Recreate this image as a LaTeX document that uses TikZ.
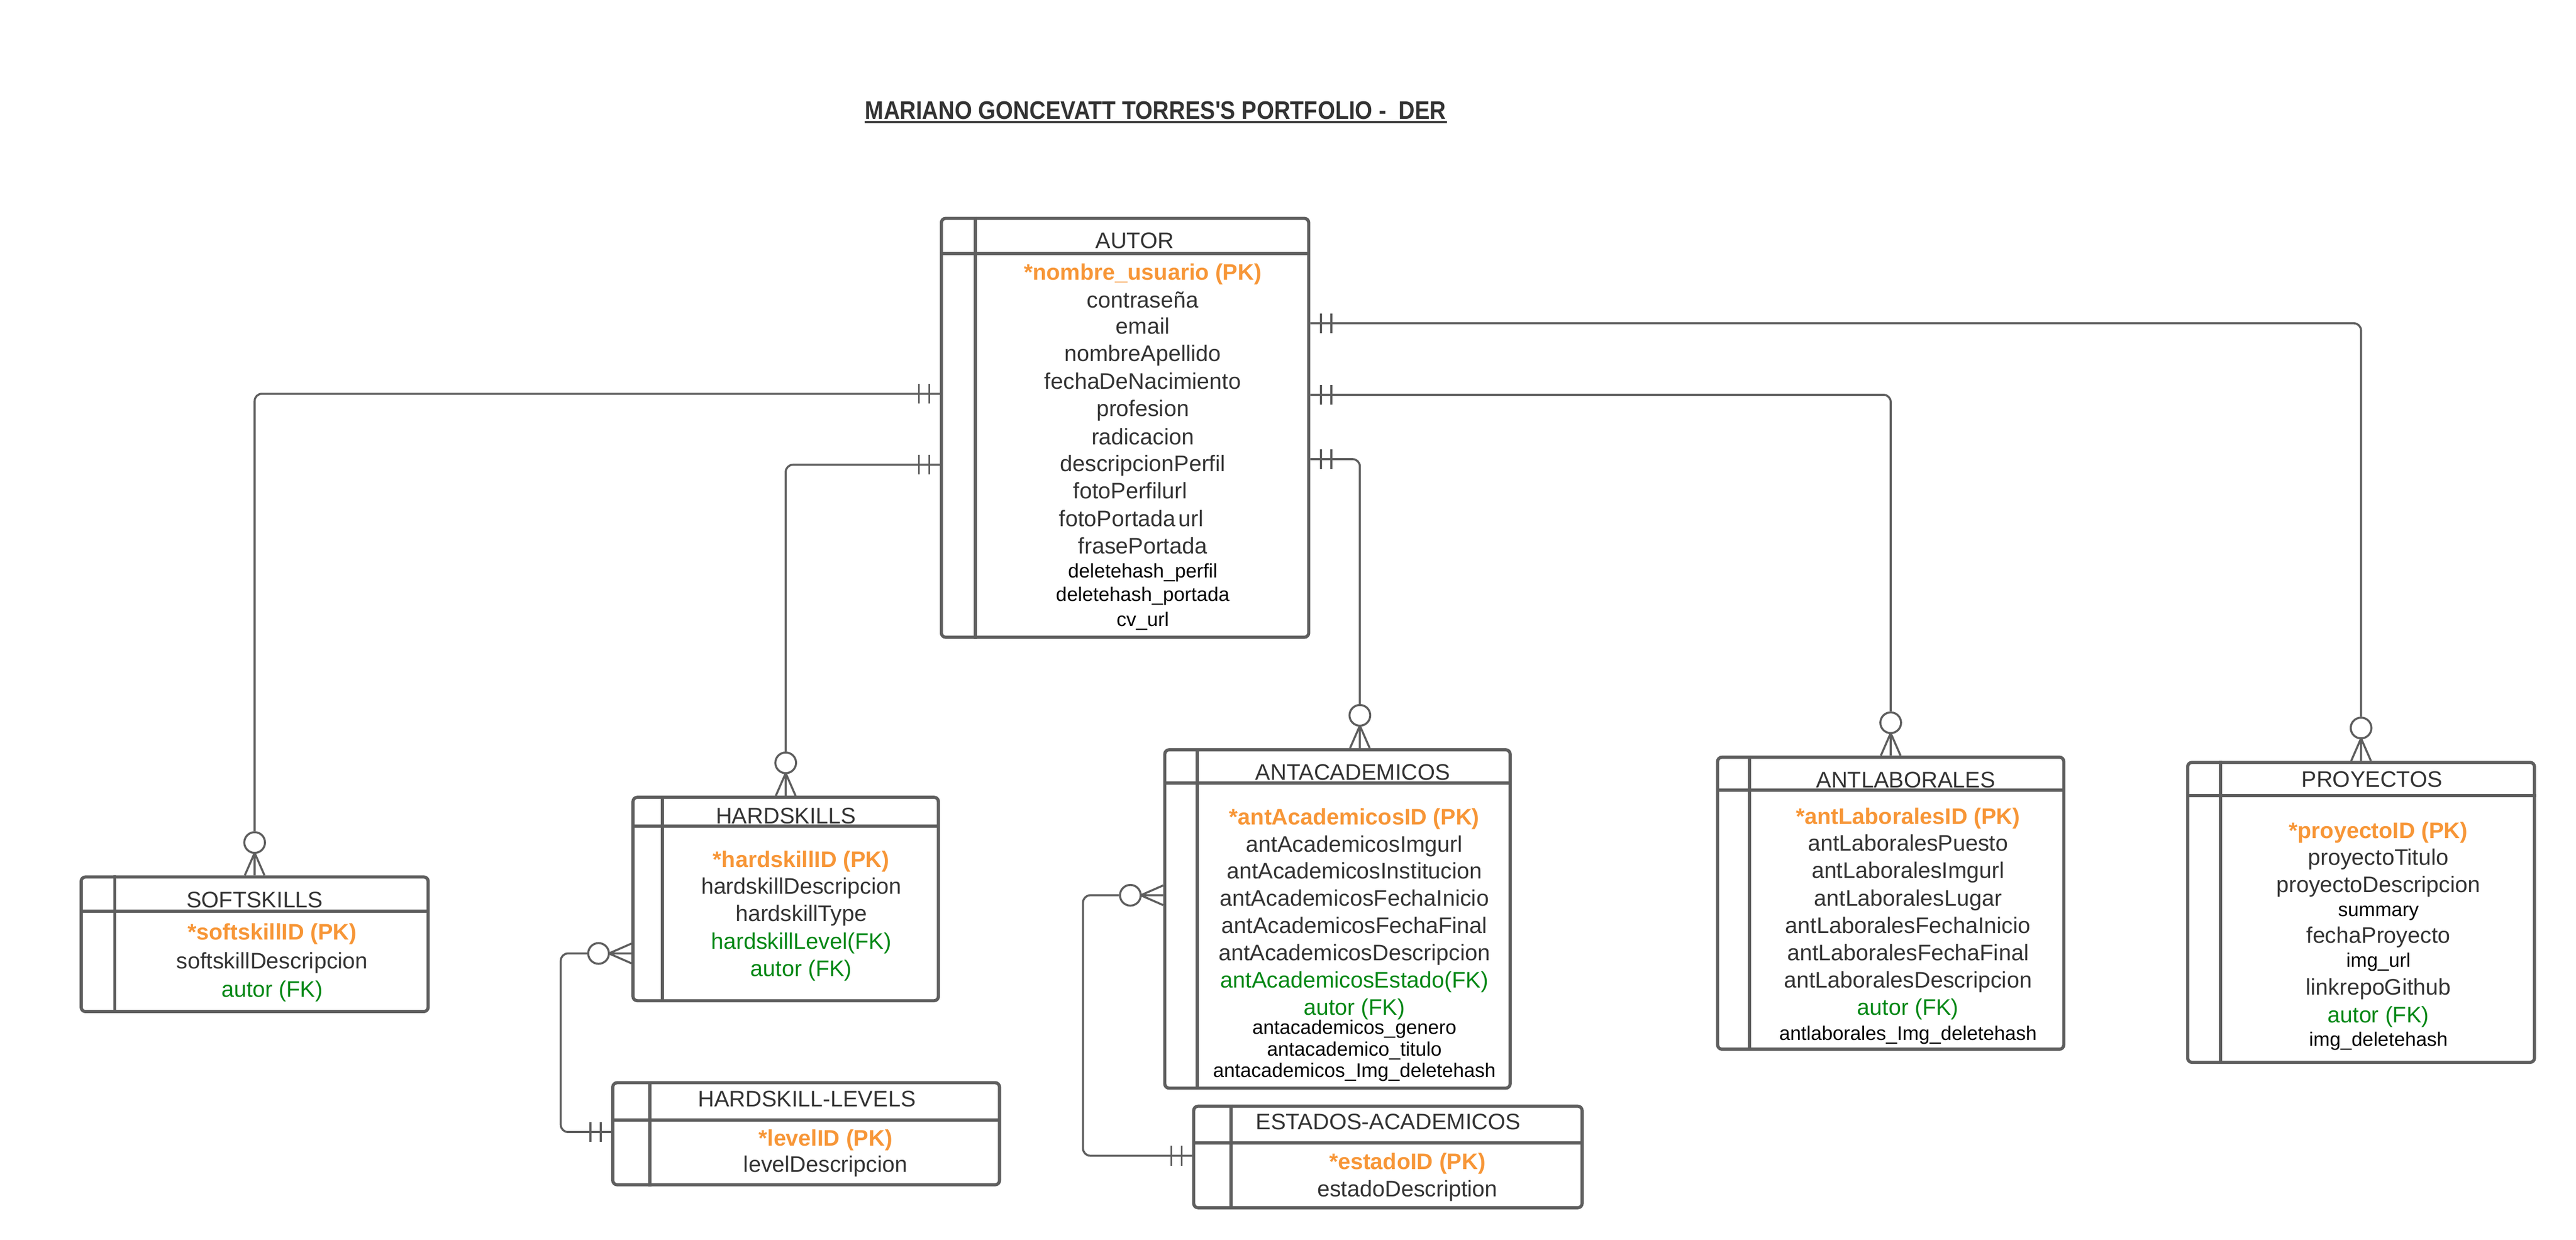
\documentclass[tikz,border=0pt]{standalone}
\usepackage{fontspec}
\setmainfont{Liberation Sans}
\usepackage{tikz}
\usetikzlibrary{fit}
\usetikzlibrary{positioning, calc}

\definecolor{linea}{RGB}{94,94,94}
\definecolor{texto}{RGB}{51,51,51}
\definecolor{pkcolor}{RGB}{247,150,55}
\definecolor{fkcolor}{RGB}{0,135,20}

\begin{document}
\begin{tikzpicture}[x=0.02cm, y=-0.02cm,
    tabla/.style={draw=linea, line width=1.1pt, rounded corners=1.5pt, inner sep=0pt},
    division/.style={draw=linea, line width=1.1pt},
    cabecera/.style={inner sep=0pt, text height=5.6pt, text depth=0pt, text=texto, font=\fontsize{7.8}{9}\selectfont},
    campo/.style={cabecera},
    pk/.style={cabecera, text=pkcolor, font=\fontsize{7.8}{9}\selectfont\bfseries},
    fk/.style={cabecera, text=fkcolor},
    extra/.style={cabecera, text=black, text height=4.9pt, font=\fontsize{6.8}{8}\selectfont},
    titulo/.style={inner sep=0pt, text=texto, font=\fontsize{8.8}{10}\selectfont\bfseries},
    rel/.style={draw=linea, line width=0.7pt, rounded corners=2.5pt},
    pics/muchos/.style={code={
        \node[circle, draw=linea, line width=0.7pt, minimum size=0.252cm, inner sep=0pt] (-c) at (0,-20) {};
        \draw[rel] (0,-13.7) -- (0,0) (0,-13.7) -- (-6,0) (0,-13.7) -- (6,0);
    }},
    pics/uno/.style={code={
        \draw[rel] (-6.4,-6) -- (-6.4,6) (-12.7,-6) -- (-12.7,6);
    }}
]
\path[use as bounding box, fill=white] (0,0) rectangle (1568,754.6);

% Titulo
\node[titulo, anchor=base] (titulo) at (703.4,72.6) {\scalebox{0.883}[1]{MARIANO GONCEVATT TORRES\textquotesingle S PORTFOLIO -\ \ DER}};
\draw[line width=0.6pt, texto] ([yshift=-1pt]titulo.base west) -- ([yshift=-1pt]titulo.base east);

% Tablas
\node[tabla, fit={(573,132.9) (796.6,387.8)}] (autor) {};
\node[tabla, fit={(49.4,533.7) (260.6,615.6)}] (softskills) {};
\node[tabla, fit={(385.3,485.2) (571.2,609)}] (hardskills) {};
\node[tabla, fit={(373,658.9) (608.4,721)}] (hlevels) {};
\node[tabla, fit={(709,456.3) (919.2,662.2)}] (antacad) {};
\node[tabla, fit={(726.6,673.2) (963,735)}] (estados) {};
\node[tabla, fit={(1045.5,460.8) (1256.2,638.5)}] (antlab) {};
\node[tabla, fit={(1331.6,464) (1542.7,646.5)}] (proyectos) {};

\foreach \t/\h/\v in {autor/22.5/21.7, softskills/21.8/21.4, hardskills/18.5/18.9, hlevels/23.6/23.6,
                      antacad/21.3/20.6, estados/23.3/23.8, antlab/21/20.5, proyectos/21.1/21.1}
{
    \draw[division] ($(\t.north west)+(0,\h)$) -- ($(\t.north east)+(0,\h)$);
    \draw[division] ($(\t.north west)+(\v,0)$) -- ($(\t.south west)+(\v,0)$);
}

% Cabeceras
\node[cabecera] (autor-t) at (690.7,146.2) {AUTOR};
\node[cabecera] (softskills-t) at (155.1,547.3) {SOFTSKILLS};
\node[cabecera] (hardskills-t) at (478.4,496.2) {HARDSKILLS};
\node[cabecera] (hlevels-t) at (491.1,668.4) {HARDSKILL-LEVELS};
\node[cabecera] (antacad-t) at (823.5,469.9) {ANTACADEMICOS};
\node[cabecera] (estados-t) at (845,682.5) {ESTADOS-ACADEMICOS};
\node[cabecera] (antlab-t) at (1160,474.3) {ANTLABORALES};
\node[cabecera] (proyectos-t) at (1443.8,474) {PROYECTOS};

% Autor
\foreach \y/\s/\txt [count=\i] in {165.4/pk/*nombre\_usuario (PK), 182.4/campo/contraseña, 198.5/campo/email,
        215/campo/nombreApellido, 231.7/campo/fechaDeNacimiento, 248.5/campo/profesion, 265.6/campo/radicacion,
        282/campo/descripcionPerfil, 332/campo/frasePortada, 347.2/extra/deletehash\_perfil,
        361.4/extra/deletehash\_portada, 376.7/extra/cv\_url}
    \node[\s] (autor-\i) at (695.6,\y) {\txt};
\node[campo] (autor-fp) at (688,298.7) {fotoPerfilurl};
\node[campo] (autor-fo) at (688.7,315.4) {fotoPortada\hspace{1pt}url};

% Softskills
\foreach \y/\s/\txt [count=\i] in {567.1/pk/*softskillID (PK), 584.7/campo/softskillDescripcion, 601.7/fk/autor (FK)}
    \node[\s] (softskills-\i) at (165.7,\y) {\txt};

% Hardskills
\foreach \y/\s/\txt [count=\i] in {523/pk/*hardskillID (PK), 539.2/campo/hardskillDescripcion, 555.6/campo/hardskillType,
        572.8/fk/hardskillLevel(FK), 589.2/fk/autor (FK)}
    \node[\s] (hardskills-\i) at (487.7,\y) {\txt};

% Hardskill-levels
\foreach \y/\s/\txt [count=\i] in {692.4/pk/*levelID (PK), 708.5/campo/levelDescripcion}
    \node[\s] (hlevels-\i) at (502.5,\y) {\txt};

% Antacademicos
\foreach \y/\s/\txt [count=\i] in {497/pk/*antAcademicosID (PK), 513.6/campo/antAcademicosImgurl,
        529.9/campo/antAcademicosInstitucion, 546.3/campo/antAcademicosFechaInicio, 563/campo/antAcademicosFechaFinal,
        579.7/campo/antAcademicosDescripcion, 596.2/fk/antAcademicosEstado(FK), 612.8/fk/autor (FK),
        625/extra/antacademicos\_genero, 638.2/extra/antacademico\_titulo, 651.4/extra/antacademicos\_Img\_deletehash}
    \node[\s] (antacad-\i) at (824.4,\y) {\txt};

% Estados-academicos
\foreach \y/\s/\txt [count=\i] in {706.7/pk/*estadoID (PK), 723.2/campo/estadoDescription}
    \node[\s] (estados-\i) at (856.7,\y) {\txt};

% Antlaborales
\foreach \y/\s/\txt [count=\i] in {496.7/pk/*antLaboralesID (PK), 512.9/campo/antLaboralesPuesto,
        529.5/campo/antLaboralesImgurl, 546.5/campo/antLaboralesLugar, 563.1/campo/antLaboralesFechaInicio,
        579.7/campo/antLaboralesFechaFinal, 596.3/campo/antLaboralesDescripcion, 612.9/fk/autor (FK),
        628.8/extra/antlaborales\_Img\_deletehash}
    \node[\s] (antlab-\i) at (1161.4,\y) {\txt};

% Proyectos
\foreach \y/\s/\txt [count=\i] in {505.4/pk/*proyectoID (PK), 521.7/campo/proyectoTitulo, 538/campo/proyectoDescripcion,
        553.2/extra/summary, 569/campo/fechaProyecto, 584.2/extra/img\_url, 600.7/campo/linkrepoGithub,
        617.5/fk/autor (FK), 632.5/extra/img\_deletehash}
    \node[\s] (proyectos-\i) at (1447.7,\y) {\txt};

% Relaciones
\coordinate (a-sk) at ($(autor.north west)+(0,107.7)$);
\coordinate (a-hs) at ($(autor.north west)+(0,150.9)$);
\coordinate (a-ac) at ($(autor.north east)+(0,147.5)$);
\coordinate (a-al) at ($(autor.north east)+(0,108.3)$);
\coordinate (a-pr) at ($(autor.north east)+(0,64.8)$);
\coordinate (hl-in) at ($(hlevels.north west)+(0,31)$);
\coordinate (es-in) at ($(estados.north west)+(0,31.1)$);

\pic (sk) at (softskills.north) {muchos};
\pic (hs) at (hardskills.north) {muchos};
\pic (ac) at ($(antacad.north west)+(119.7,0)$) {muchos};
\pic (al) at (antlab.north) {muchos};
\pic (pr) at (proyectos.north) {muchos};
\pic[rotate=90] (hsl) at ($(hardskills.north west)+(0,96)$) {muchos};
\pic[rotate=90] (acl) at ($(antacad.north west)+(0,89.5)$) {muchos};

\foreach \c in {a-sk, a-hs, hl-in, es-in}
    \pic at (\c) {uno};
\foreach \c in {a-ac, a-al, a-pr}
    \pic[rotate=180] at (\c) {uno};

\draw[rel] (a-sk) -| (sk-c);
\draw[rel] (a-hs) -| (hs-c);
\draw[rel] (a-ac) -| (ac-c);
\draw[rel] (a-al) -| (al-c);
\draw[rel] (a-pr) -| (pr-c);
\draw[rel] (hsl-c) -- ++(-23,0) |- (hl-in);
\draw[rel] (acl-c) -- ++(-28.8,0) |- (es-in);

\end{tikzpicture}
\end{document}
